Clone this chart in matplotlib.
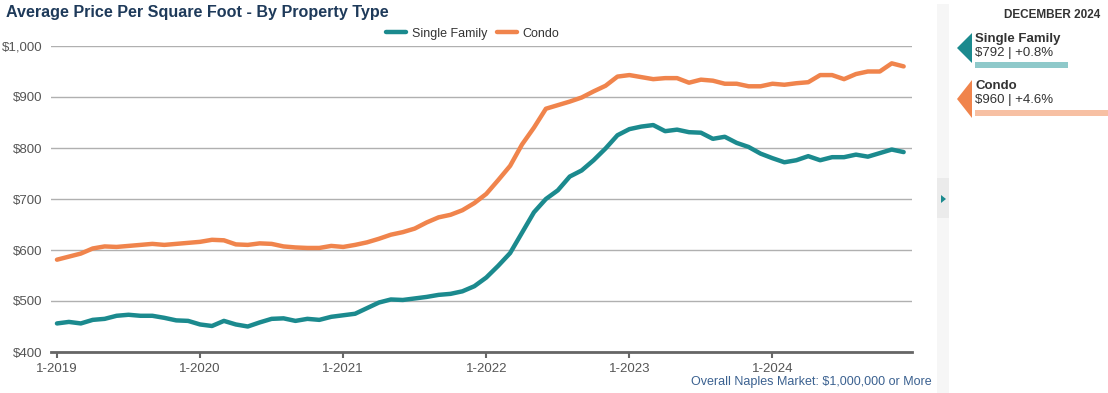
import matplotlib.pyplot as plt
from matplotlib.patches import Polygon, Rectangle

plt.rcParams['font.family'] = ['Liberation Sans', 'DejaVu Sans']

# monthly values, Jan 2019 .. Dec 2024
single_family = [456, 459, 456, 463, 465, 471, 473, 471, 471, 467, 462, 461,
                 454, 451, 461, 454, 450, 458, 465, 466, 461, 465, 463, 469,
                 472, 475, 486, 497, 503, 502, 505, 508, 512, 514, 519, 529,
                 546, 569, 594, 634, 674, 700, 717, 744, 756, 776, 799, 825,
                 837, 842, 845, 833, 836, 831, 830, 818, 822, 810, 802, 789,
                 780, 772, 776, 784, 776, 782, 782, 787, 783, 790, 797, 792]
condo = [581, 587, 593, 603, 607, 606, 608, 610, 612, 610, 612, 614,
         616, 620, 619, 611, 610, 613, 612, 607, 605, 604, 604, 608,
         606, 610, 615, 622, 630, 635, 642, 654, 664, 669, 678, 692,
         710, 737, 765, 807, 840, 877, 884, 891, 899, 911, 922, 940,
         943, 939, 935, 937, 937, 928, 934, 932, 926, 926, 921, 921,
         926, 924, 927, 929, 943, 943, 935, 945, 950, 950, 966, 960]
year_labels = ['1-2019', '1-2020', '1-2021', '1-2022', '1-2023', '1-2024']
y_ticks = [400, 500, 600, 700, 800, 900, 1000]
series_names = ['Single Family', 'Condo']
latest_text = ['$792 | +0.8%', '$960 | +4.6%']
bar_share = [0.70, 1.0]

teal = '#1b8a8e'
orange = '#f0844c'
bar_colors = ['#8fc9ca', '#f7c0a3']
navy = '#1e3a5a'

W, H = 1108, 393
fig = plt.figure(figsize=(W / 100, H / 100), dpi=100)
fig.patch.set_facecolor('white')

ax = fig.add_axes([51 / W, 1 - 352 / H, (912 - 51) / W, (352 - 46) / H])
months = list(range(len(single_family)))
ax.plot(months, single_family, color=teal, lw=3.2, solid_capstyle='round',
        solid_joinstyle='round', label=series_names[0], zorder=3)
ax.plot(months, condo, color=orange, lw=3.2, solid_capstyle='round',
        solid_joinstyle='round', label=series_names[1], zorder=3)

ax.set_ylim(400, 1000)
ax.set_xlim(-0.5, 71.7)
ax.set_yticks(y_ticks)
ax.set_yticklabels([f'${v:,}' for v in y_ticks])
ax.set_xticks(range(0, 72, 12))
ax.set_xticklabels(year_labels)
ax.grid(axis='y', color='#b0b0b0', lw=1)
ax.set_axisbelow(True)
for s in ['top', 'right', 'left']:
    ax.spines[s].set_visible(False)
ax.spines['bottom'].set_color('#666666')
ax.spines['bottom'].set_linewidth(2)
ax.tick_params(axis='y', length=0, pad=6, labelsize=9.5, labelcolor='#555555')
ax.tick_params(axis='x', length=4, width=1.5, color='#666666', pad=4,
               labelsize=9.5, labelcolor='#555555')

leg = ax.legend(loc='lower center', bbox_to_anchor=(0.49, 1.0), ncol=2,
                frameon=False, fontsize=9, handlelength=1.6, handletextpad=0.5,
                columnspacing=0.7, borderaxespad=0.1)
for t in leg.get_texts():
    t.set_color('#333333')

fig.text(6 / W, 1 - 13 / H, 'Average Price Per Square Foot - By Property Type',
         fontsize=11.6, fontweight='bold', color=navy, va='center', ha='left')
fig.text(932 / W, 1 - 382 / H, 'Overall Naples Market: $1,000,000 or More',
         fontsize=9, color='#3b6190', va='center', ha='right')

# collapsible strip
fig.patches.append(Rectangle((937 / W, 0), 12 / W, 1 - 4 / H, transform=fig.transFigure,
                             facecolor='#f6f6f6', edgecolor='none'))
fig.patches.append(Rectangle((937 / W, 1 - 218 / H), 12 / W, 40 / H, transform=fig.transFigure,
                             facecolor='#ebebeb', edgecolor='none'))
fig.patches.append(Polygon([(941 / W, 1 - 195 / H), (941 / W, 1 - 203 / H), (946 / W, 1 - 199 / H)],
                           closed=True, transform=fig.transFigure, facecolor=teal, edgecolor='none'))

# side panel
fig.text(1100 / W, 1 - 15 / H, 'DECEMBER 2024', fontsize=8.5, fontweight='bold',
         color='#333333', ha='right', va='center')
tops = [33, 80]
for name, txt, share, col, bcol, top in zip(series_names, latest_text, bar_share,
                                            [teal, orange], bar_colors, tops):
    hgt = 30 if top == 33 else 38
    fig.patches.append(Polygon([(972 / W, 1 - top / H), (957 / W, 1 - (top + hgt / 2) / H),
                                (972 / W, 1 - (top + hgt) / H)], closed=True,
                               transform=fig.transFigure, facecolor=col, edgecolor='none'))
    fig.text(975 / W, 1 - (top + 6) / H, name, fontsize=9.5, fontweight='bold',
             color='#333333', ha='left', va='center')
    fig.text(975 / W, 1 - (top + 20) / H, txt, fontsize=9.5,
             color='#333333', ha='left', va='center')
    fig.patches.append(Rectangle((975 / W, 1 - (top + 36 if top == 80 else top + 35) / H),
                                 (1108 - 975) * share / W, 6 / H, transform=fig.transFigure,
                                 facecolor=bcol, edgecolor='none'))

fig.savefig('out.png', dpi=100)
